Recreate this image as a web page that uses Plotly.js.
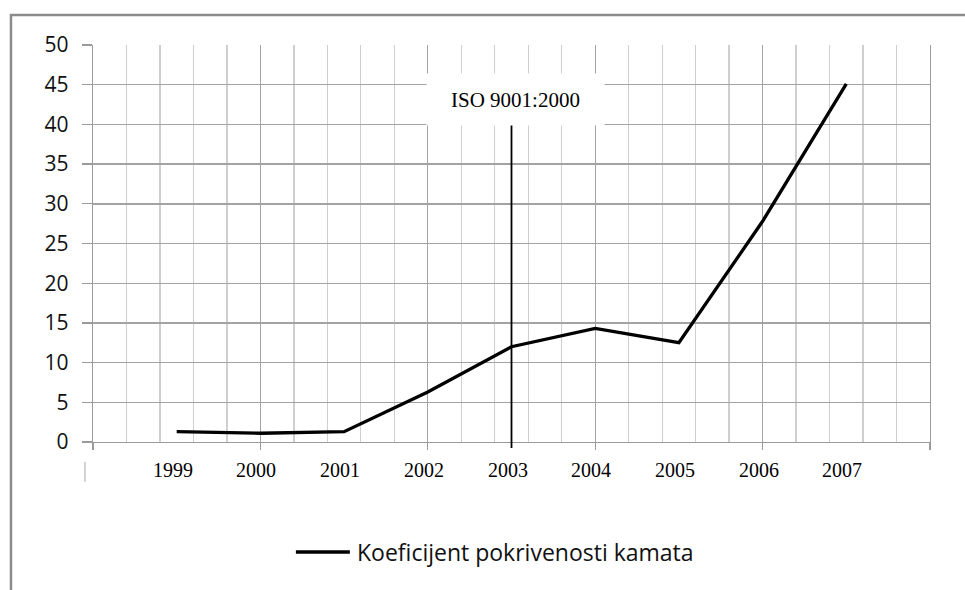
<!DOCTYPE html>
<html>
<head>
<meta charset="utf-8">
<script src="https://cdn.plot.ly/plotly-3.0.1.min.js"></script>
<style>
  html, body { margin: 0; padding: 0; background: #ffffff; }
  #chart { width: 965px; height: 590px; }
</style>
</head>
<body>
<div id="chart"></div>
<script>
// Interest coverage ratio by year
const years = [1999, 2000, 2001, 2002, 2003, 2004, 2005, 2006, 2007];
const yearLabels = ['1999', '2000', '2001', '2002', '2003', '2004', '2005', '2006', '2007'];
const coverage = [1.3, 1.1, 1.3, 6.3, 12.0, 14.3, 12.5, 27.8, 45.1];
const seriesName = 'Koeficijent pokrivenosti kamata';

// ISO certification marker
const isoYear = 2003;
const isoLabel = 'ISO 9001:2000';

const serif = 'Liberation Serif, Times New Roman, serif';
const sans = 'Open Sans, Noto Sans, sans-serif';

const trace = {
  x: years,
  y: coverage,
  type: 'scatter',
  mode: 'lines',
  name: seriesName,
  line: { color: '#000000', width: 3.3 },
  showlegend: false,
  hoverinfo: 'x+y'
};

// Year captions under the axis
const yearAnnotations = years.map((yr, i) => ({
  x: yr, xref: 'x',
  y: -0.0705, yref: 'paper', yanchor: 'middle',
  text: yearLabels[i],
  showarrow: false,
  xshift: -4,
  font: { family: serif, size: 20, color: '#000000' }
}));

const layout = {
  width: 965,
  height: 590,
  margin: { l: 93, r: 34.5, t: 45, b: 148 },
  paper_bgcolor: '#ffffff',
  plot_bgcolor: '#ffffff',
  showlegend: false,
  xaxis: {
    range: [1998, 2008],
    tickmode: 'linear', tick0: 1998, dtick: 2,
    showticklabels: false,
    ticks: 'outside', ticklen: 7, tickwidth: 1.3, tickcolor: '#9a9a9a',
    showgrid: true, gridcolor: '#a3a3a3', gridwidth: 1.4,
    minor: { tick0: 1998, dtick: 0.4, showgrid: true, gridcolor: '#cfcfcf', gridwidth: 1.3 },
    showline: true, linecolor: '#9a9a9a', linewidth: 1.4,
    zeroline: false,
    fixedrange: true
  },
  yaxis: {
    range: [0, 50],
    tickmode: 'linear', tick0: 0, dtick: 5,
    ticks: 'outside', ticklen: 10, tickwidth: 1.3, tickcolor: '#9a9a9a',
    ticklabelstandoff: 9,
    tickfont: { family: sans, size: 21, color: '#111111' },
    showgrid: true, gridcolor: '#a3a3a3', gridwidth: 1.4,
    showline: true, linecolor: '#9a9a9a', linewidth: 1.4, mirror: true,
    zeroline: false,
    fixedrange: true
  },
  shapes: [
    // outer chart frame
    { type: 'rect', xref: 'paper', yref: 'paper',
      x0: -0.098, x1: 1.3, y0: -0.6, y1: 1.0756,
      line: { color: '#8c8c8c', width: 2.5 }, fillcolor: 'rgba(0,0,0,0)', layer: 'below' },
    // ISO marker line, running just past the axis
    { type: 'line', xref: 'x', yref: 'paper',
      x0: isoYear, x1: isoYear, y0: -0.015, y1: 0.8086,
      line: { color: '#000000', width: 1.8 } },
    // faint stub left of the year captions
    { type: 'line', xref: 'paper', yref: 'paper',
      x0: -0.0096, x1: -0.0096, y0: -0.05, y1: -0.1,
      line: { color: '#c4c4c4', width: 1.5 } },
    // legend key
    { type: 'line', xref: 'paper', yref: 'paper',
      x0: 0.2424, x1: 0.3069, y0: -0.2771, y1: -0.2771,
      line: { color: '#000000', width: 3.5 } }
  ],
  annotations: yearAnnotations.concat([
    { x: isoYear, xref: 'x', y: 43.1, yref: 'y',
      text: isoLabel, showarrow: false,
      xshift: 3.5,
      width: 175, height: 49,
      bgcolor: '#ffffff',
      font: { family: serif, size: 21, color: '#000000' } },
    // legend text
    { x: 0.3128, xref: 'paper', y: -0.2771, yref: 'paper',
      xanchor: 'left', yanchor: 'middle',
      text: seriesName, showarrow: false,
      font: { family: sans, size: 23, color: '#111111' } }
  ])
};

Plotly.newPlot('chart', [trace], layout, { displayModeBar: false, staticPlot: true });
</script>
</body>
</html>
